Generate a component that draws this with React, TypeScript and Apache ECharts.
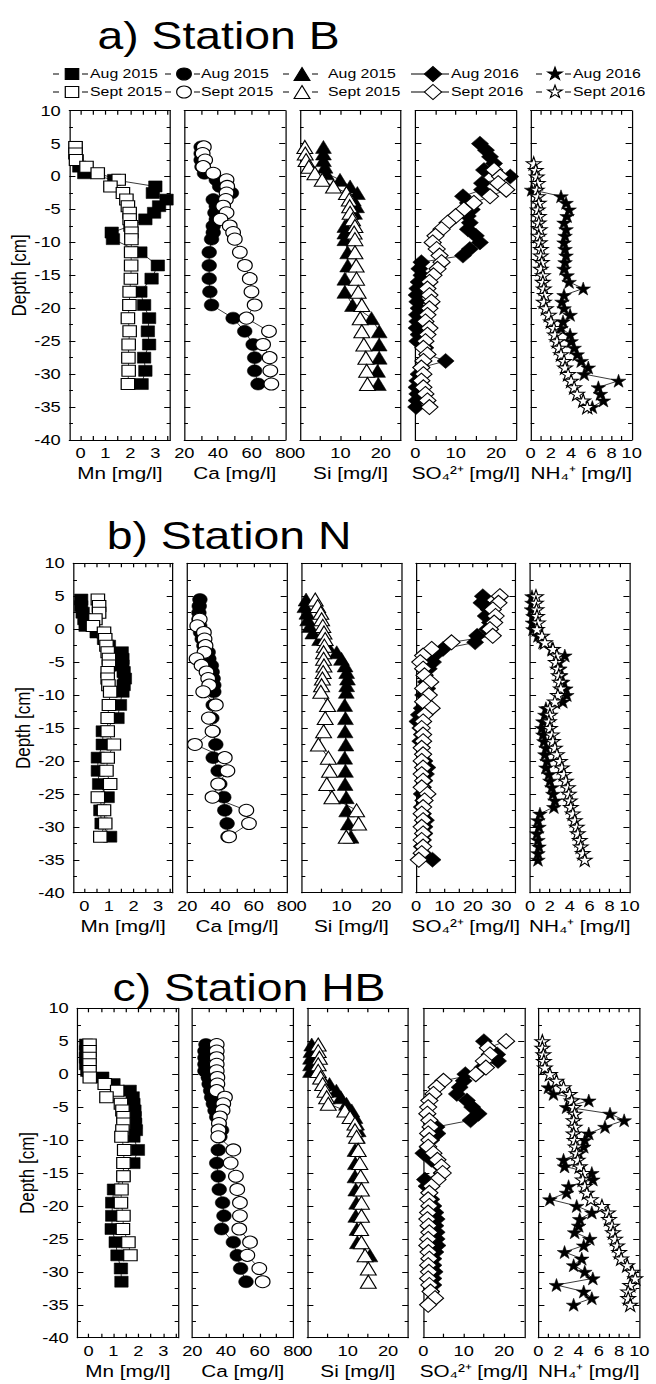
import React, { useEffect, useRef } from "react";
import * as echarts from "echarts";

// The original figure is horizontally stretched; we draw unstretched and scale with CSS.
const STRETCH = 1.22;
const PAGE_W = 656;
const PAGE_H = 1384;
const FONT = "'Liberation Sans', Arial, Helvetica, sans-serif";

// ---------- depths ----------
const DEPTH_2015 = [4.5, 3.5, 2.5, 1.5, 0.5, -0.5, -1.5, -2.5, -3.5, -4.5, -5.5, -6.5, -7.5, -8.5, -9.5,
  -11.5, -13.5, -15.5, -17.5, -19.5, -21.5, -23.5, -25.5, -27.5, -29.5, -31.5];
const DEPTH_2016 = [5, 4, 3, 2, 1, 0, -1, -2, -3, -4, -5, -6, -7, -8, -9, -10, -11, -12, -13, -14, -15,
  -16, -17, -18, -19, -20, -21, -22, -23, -24, -25, -26, -27, -28, -29, -30, -31, -32, -33, -34, -35];

// ---------- a) Station B ----------
const mnAug_B = [-0.2, -0.2, -0.15, -0.05, 0.15, 1.35, 3.0, 2.9, 3.45, 3.15, 2.95, 2.6, 2.0, 1.25, 1.3,
  2.4, 3.1, 2.85, 2.4, 2.55, 2.75, 2.7, 2.75, 2.55, 2.6, 2.45];
const mnSept_B = [-0.2, -0.2, -0.18, 0.24, 0.69, 1.53, 1.2, 1.7, 1.84, 1.9, 1.97, 1.97, 2.03, 2.04, 2.04,
  2.03, 2.03, 2.02, 1.97, 1.96, 1.9, 1.97, 1.93, 1.92, 1.93, 1.9];
const caAug_B = [30, 30, 30, 30.5, 32, 39, 41, 48, 37.2, 39, 38.2, 39, 37.2, 37.2, 36.2,
  34.8, 34.8, 34.8, 35.2, 36.2, 49, 55.9, 60.9, 61.8, 61.8, 63.8];
const caSept_B = [31.6, 30.9, 32.4, 31.2, 37.2, 45.1, 45.5, 45.1, 44.7, 43.1, 45.1, 41.5, 47, 49, 50,
  53, 56, 58.9, 59.9, 61.8, 56.9, 70.3, 66.8, 70.7, 71.1, 71.7];
const siAug_B = [5.8, 5.8, 5.8, 6.2, 6.5, 9.9, 12.4, 14.2, 13.2, 14, 13.5, 12.5, 11.1, 11.1, 11.1,
  11.8, 11.8, 11.1, 11.1, 13, 17.7, 19.6, 19.6, 19.6, 19.2, 19.4];
const siSept_B = [1.2, 1.3, 1.5, 2.2, 3.7, 5.5, 8.3, 11.5, 12.2, 12.3, 12.4, 13, 13.6, 13.4, 13.6,
  13.6, 13.9, 14, 14.4, 15.3, 14.9, 15.3, 15.8, 16.3, 16.5, 16.7];
const so4Aug_B = [16, 17.5, 18.5, 19.5, 17, 23.5, 16.5, 16.5, 11.8, 13, 14, 13, 13.5, 13, 15,
  16, 13.5, 11.8, 1.5, 1, 1.5, 0.8, 0.5, 0.3, 0.5, 0.8, 0.4, 0.5, 0.3, 0.8,
  0.5, 2.5, 3, 7.5, 1.5, 0.8, 0.5, 0.3, 0.5, 0.3, 0.2];
const so4Sept_B = [null, null, null, null, 19.5, 21, 20.5, 22.5, 18.5, 14.5, 12, 10, 8, 6.5, 5,
  4.3, 5.3, 6, 6.5, 5.5, 4.5, 3.5, 3, 3.5, 4, 3.5, 3, 2.5, 3.5, 3,
  2.5, 2, 3, 2, 1.5, 2, 1.5, 2, 2.5, 3, 3.5];
const nh4Aug_B = [null, null, null, null, null, null, null, 0.1, 3.0, 3.5, 3.8, 3.6, 3.3, 3.5, 3.4,
  3.3, 3.4, 3.5, 3.4, 3.3, 3.6, 3.8, 5.2, 3.3, 3.1, 3.3, 3.9, 3.2, 3.0, 3.9,
  4.0, 4.3, 4.6, 5.0, 5.7, 5.3, 8.7, 6.7, 6.9, 7.2, 6.1];
const nh4Sept_B = [null, null, null, 0.3, 0.5, 0.6, 0.7, 0.6, 0.7, 0.8, 0.7, 0.8, 0.8, 0.9, 0.8,
  0.9, 1.0, 1.0, 1.1, 1.0, 1.2, 1.2, 1.3, 1.4, 1.3, 1.5, 1.8, 2.0, 2.3, 2.4,
  2.6, 2.8, 3.0, 3.3, 3.4, 3.7, 4.0, 4.3, 4.6, 5.2, 5.6];

// ---------- b) Station N ----------
const mnAug_N = [-0.13, -0.13, -0.07, 0, 0.05, 0.5, 0.8, 1.0, 1.52, 1.55, 1.55, 1.6, 1.65, 1.6, 1.55,
  1.45, 1.35, 0.75, 0.75, 0.55, 0.55, 0.6, 0.95, 0.65, 0.7, 1.05];
const mnSept_N = [0.55, 0.6, 0.6, 0.45, 0.35, 0.8, 0.85, 0.9, 0.95, 1.0, 1.0, 0.95, 0.95, 0.98, 1.05,
  1.0, 0.95, 0.95, 1.2, 0.95, 0.9, 1.05, 0.55, 0.8, 0.85, 0.65];
const caAug_N = [27.6, 27.2, 27, 27, 27.5, 28, 29, 30, 32.6, 33, 34.5, 35, 35.6, 36, 36,
  35.6, 34.8, 35.6, 37.2, 35.6, 38.6, 39.6, 42, 42.6, 44, 44.5];
const caSept_N = [null, null, null, 27.5, 26, 30, 30.4, 31, 30.4, 25.6, 28.6, 31.6, 32.6, 33.2, 29.6,
  37.2, 33, 35.2, 24.6, 42.6, 44.2, 38.6, 35.2, 55.6, 57.2, 45.2];
const siAug_N = [1.1, 0.8, 1.3, 1.5, 2.0, 2.8, 4.5, 6.5, 8.8, 10, 10.9, 11.3, 11.5, 11.3, 11.2,
  10.8, 11.0, 10.9, 11.1, 10.8, 11.0, 10.9, 11.2, 11.3, 11.7, 12.4];
const siSept_N = [3.4, 4.0, 4.8, 5.0, 5.3, 5.6, 5.9, 5.7, 5.5, 5.5, 5.6, 5.4, 5.2, 5.0, 4.8,
  6.5, 5.9, 5.5, 4.2, 6.7, 7.0, 6.3, 7.6, 13.8, 14.3, 11.2];
const so4Aug_N = [23.5, 23, 25.5, 24.5, 26, 25, 21.5, 20.8, 9.5, 6.5, 6, 4.5, 3, 3.5, 4,
  2.5, 3, 2, 1, 0.5, 1.5, 2, 1.5, 2, 2.5, 3, 4, 3.5, 3, 2.5,
  2, 2.5, 2, 2.5, 3.5, 3, 3, 2.5, 2, 2.5, 5.8];
const so4Sept_N = [29.5, 29, 27, 28, 27.5, 26, 27, 12.5, 5.5, 2.5, 1.5, 2.5, 3, 5, 2.5,
  4.5, 2.5, 5.5, 3, 2.5, 2, 2.5, 2.5, 2, 2.5, 2, 2.5, 2, 2.5, 2,
  4, 3, 2.5, 2, 2.5, 2, 2.5, 2, 2.5, 2, 1];
const nh4Aug_N = [0.2, 0.2, 0.15, 0.3, 0.25, 0.3, 0.8, 1.3, 2.2, 3.5, 2.9, 3.0, 3.1, 3.3, 3.6,
  3.7, 3.3, 1.6, 1.5, 1.3, 1.2, 1.3, 1.4, 1.6, 1.5, 1.7, 1.6, 1.9, 2.0, 2.2,
  2.3, 2.5, 2.4, 1.0, 0.8, 0.9, 0.7, 0.8, 0.9, 0.8, 0.8];
const nh4Sept_N = [0.6, 0.6, 0.65, 0.7, 0.8, 0.7, 1.2, 1.5, 2.3, 2.7, 2.6, 2.8, 2.9, 3.0, 3.1,
  2.8, 2.5, 2.0, 2.0, 1.9, 2.0, 2.2, 2.3, 2.5, 2.7, 3.0, 3.2, 3.4, 3.6, 3.8,
  3.9, 4.0, 4.1, 4.3, 4.5, 4.7, 4.8, 5.0, 5.1, 5.3, 5.5];

// ---------- c) Station HB ----------
const mnAug_HB = [-0.1, -0.1, -0.1, -0.1, -0.05, 0.55, 1.0, 1.65, 1.77, 1.8, 1.84, 1.85, 1.87, 1.9, 1.8,
  1.98, 1.8, 1.4, 1.02, 0.95, 0.95, 0.93, 1.09, 1.16, 1.3, 1.32];
const mnSept_HB = [0.04, 0.04, 0.04, 0.04, 0.04, 0.05, 0.65, 1.15, 0.72, 1.3, 1.36, 1.4, 1.4, 1.36, 1.32,
  1.43, 1.4, 1.4, 1.32, 1.3, 1.4, 1.38, 1.6, 1.68, null, null];
const caAug_HB = [28.1, 27.5, 27.5, 27.5, 27.5, 29.5, 30, 30.9, 31.5, 32.5, 33.5, 34.5, 36, 37.4, 36.4,
  35.4, 34.5, 35.4, 36, 38, 38.8, 37.4, 44.4, 46.7, 48.7, 51.9];
const caSept_HB = [34.5, 34.5, 34.5, 34.5, 34.5, 34.9, 34.9, 34.5, 39.4, 38.4, 38, 36.4, 35.8, 35.6, 35.4,
  44.4, 42.8, 45.9, 46.7, 48.3, 48.3, 47.9, 54.3, 52.7, 59.8, 61.8];
const siAug_HB = [1.1, 0.9, 0.8, 0.8, 0.8, 3.5, 5.5, 7.2, 8.3, 9.7, 11, 11.8, 12.2, 12.6, 12.4,
  11.8, 11.9, 11.8, 12.0, 12.2, 12.0, 12.3, 12.4, 15.5, null, null];
const siSept_HB = [2.7, 2.7, 3.0, 2.7, 2.7, 3.3, 3.8, 4.4, 4.8, 5.2, 9.3, 10.6, 11.8, 11.8, 12.2,
  12.6, 13, 13.2, 13.4, 13.4, 13.4, 13.2, 13.4, 14.3, 15.1, 15.1];
const so4Aug_HB = [15, 16, 18.3, 18.5, 14.6, 10.4, 10, 9, 8.3, 10.8, 12.1, 13.7, 11.7, 3.3, 3.5,
  2, 1, 0, 2, 4.2, 4.5, 0.4, 0.8, 1.5, 2, 2.5, 3, 3.3, 3, 3.3,
  3.3, 3.5, 3, 2.5, 2.5, 2.8, 2.5, 2.5, 2, null, null];
const so4Sept_HB = [20.5, 16, 16.5, 15, 15.5, 13, 5, 3.3, 2.5, 1.5, 1.2, 1, 1.5, 1.8, 1.2,
  1.5, 1.2, 2.5, 3.5, 4.5, 4.8, 3.5, 2, 1.5, 1.2, 1.5, 1.2, 1, 1.3, 1.5,
  1.2, 1, 1.3, 1.5, 1.2, 1.4, 1.2, 1.5, 1.8, 2.9, 1.2];
const nh4Aug_HB = [null, null, null, null, null, null, null, 1.0, 1.5, 5.0, 2.8, 7.1, 8.5, 6.6, 5.0,
  4.6, 4.5, 4.0, 2.5, 2.6, 5.3, 5.4, 3.0, 2.8, 1.15, 3.8, 5.3, 4.1, 4.0, 3.6,
  5.1, 4.5, 2.6, 4.3, 3.5, 4.6, 5.4, 1.8, 4.5, 5.3, 3.5];
const nh4Sept_HB = [0.4, 0.4, 0.5, 0.55, 0.65, 1.15, 1.8, 2.5, 3.1, 3.3, 3.5, 3.6, 3.5, 3.6, 3.5,
  3.6, 3.7, 3.8, 3.9, 4.1, 4.5, 4.4, 4.6, 4.8, 5.2, 6.3, 6.9, 7.0, 7.3, 7.4,
  7.6, 7.8, 8.0, 8.2, 8.8, 9.3, 9.6, 9.1, 8.9, 8.9, 9.1];

// ---------- texts / ticks ----------
const STATION_TITLES = ["a) Station B", "b) Station N", "c) Station HB"];
const AXIS_NAMES = ["Mn [mg/l]", "Ca [mg/l]", "Si [mg/l]", "SO\u2084\u00B2\u207A [mg/l]", "NH\u2084\u207A [mg/l]"];
const DEPTH_NAME = "Depth [cm]";
const LEGEND_AUG = ["Aug 2015", "Aug 2015", "Aug 2015", "Aug 2016", "Aug 2016"];
const LEGEND_SEPT = ["Sept 2015", "Sept 2015", "Sept 2015", "Sept 2016", "Sept 2016"];
const MN_LABELS = [0, 1, 2, 3];
const MN_TICKS = [0, 0.5, 1, 1.5, 2, 2.5, 3, 3.5];
const CA_LABELS = [20, 40, 60, 80];
const CA_TICKS = [30, 40, 50, 60, 70];
const SI_LABELS = [0, 10, 20];
const SI_TICKS = [5, 10, 15, 20];
const SO4_LABELS = [0, 10, 20];
const SO4_TICKS = [5, 10, 15, 20];
const SO4_LABELS_N = [0, 10, 20, 30];
const SO4_TICKS_N = [5, 10, 15, 20, 25, 30];
const NH4_LABELS = [0, 2, 4, 6, 8, 10];
const NH4_TICKS = [1, 2, 3, 4, 5, 6, 7, 8, 9];

const STAR_PATH = "path://M50,0L61.2,34.5L97.6,34.5L68.2,55.9L79.4,90.5L50,69.1L20.6,90.5L31.8,55.9L2.4,34.5L38.8,34.5Z";

const STATIONS = [
  { aug: [mnAug_B, caAug_B, siAug_B, so4Aug_B, nh4Aug_B], sept: [mnSept_B, caSept_B, siSept_B, so4Sept_B, nh4Sept_B] },
  { aug: [mnAug_N, caAug_N, siAug_N, so4Aug_N, nh4Aug_N], sept: [mnSept_N, caSept_N, siSept_N, so4Sept_N, nh4Sept_N] },
  { aug: [mnAug_HB, caAug_HB, siAug_HB, so4Aug_HB, nh4Aug_HB], sept: [mnSept_HB, caSept_HB, siSept_HB, so4Sept_HB, nh4Sept_HB] },
];

// layout in original (stretched) pixel coordinates
const ROWS = [
  { top: 110.7, bottom: 440, lefts: [69.3, 184.3, 300, 415.3, 530.7], width: 101, titleX: 218.5, titleY: 36.5 },
  { top: 563.3, bottom: 892.7, lefts: [73.3, 187.3, 301.7, 416, 530], width: 99.5, titleX: 229, titleY: 536.5 },
  { top: 1008.3, bottom: 1337.7, lefts: [77.3, 192.3, 307.3, 423.3, 538.3], width: 101, titleX: 249, titleY: 988.5 },
];

const PANEL_STYLE = [
  { symbol: "rect", size: 11 },
  { symbol: "circle", size: 12 },
  { symbol: "triangle", size: 13 },
  { symbol: "diamond", size: [14, 15] },
  { symbol: STAR_PATH, size: [12, 13] },
];

function axisSpec(station: number, panel: number) {
  switch (panel) {
    case 0: return { min: -0.45, max: 3.6, labels: MN_LABELS, ticks: MN_TICKS };
    case 1: return { min: 20, max: 80, labels: CA_LABELS, ticks: CA_TICKS };
    case 2: return { min: 0, max: 25, labels: SI_LABELS, ticks: SI_TICKS };
    case 3: return station === 1
      ? { min: 0, max: 35, labels: SO4_LABELS_N, ticks: SO4_TICKS_N }
      : { min: 0, max: 25, labels: SO4_LABELS, ticks: SO4_TICKS };
    default: return { min: 0, max: 10, labels: NH4_LABELS, ticks: NH4_TICKS };
  }
}

const sx = (x: number) => x / STRETCH;

function pairs(values: (number | null)[], depths: number[]) {
  const out: number[][] = [];
  values.forEach((v, i) => { if (v !== null && v !== undefined) out.push([v, depths[i]]); });
  return out;
}

function starPoints(cx: number, cy: number, rx: number, ry: number) {
  const pts: number[][] = [];
  for (let k = 0; k < 10; k++) {
    const a = -Math.PI / 2 + (k * Math.PI) / 5;
    const r = k % 2 === 0 ? 1 : 0.382;
    pts.push([cx + rx * r * Math.cos(a), cy + ry * r * Math.sin(a)]);
  }
  return pts;
}

function legendMarker(kind: number, cx: number, cy: number, filled: boolean) {
  const style = { fill: filled ? "#000" : "#fff", stroke: "#000", lineWidth: 1 };
  switch (kind) {
    case 0: return { type: "rect", shape: { x: cx - 5.5, y: cy - 5.5, width: 11, height: 11 }, style, z: 101 };
    case 1: return { type: "circle", shape: { cx, cy, r: 6 }, style, z: 101 };
    case 2: return { type: "polygon", shape: { points: [[cx, cy - 6.5], [cx + 6.5, cy + 6.5], [cx - 6.5, cy + 6.5]] }, style, z: 101 };
    case 3: return { type: "polygon", shape: { points: [[cx, cy - 7.5], [cx + 7, cy], [cx, cy + 7.5], [cx - 7, cy]] }, style, z: 101 };
    default: return { type: "polygon", shape: { points: starPoints(cx, cy, 6.3, 6.8) }, style, z: 101 };
  }
}

function buildOption() {
  const grid: any[] = [];
  const xAxis: any[] = [];
  const yAxis: any[] = [];
  const series: any[] = [];
  const black = "#000";

  ROWS.forEach((row, s) => {
    for (let p = 0; p < 5; p++) {
      const g = s * 5 + p;
      const spec = axisSpec(s, p);
      grid.push({ left: sx(row.lefts[p]), top: row.top, width: sx(row.width), height: row.bottom - row.top });
      const xBase = {
        type: "value", gridIndex: g, min: spec.min, max: spec.max,
        axisLine: { show: true, onZero: false, lineStyle: { color: black, width: 1 } },
        axisTick: { show: true, inside: true, length: 4, customValues: spec.ticks, lineStyle: { color: black } },
        splitLine: { show: false },
      };
      xAxis.push({
        ...xBase, position: "bottom",
        axisLabel: { show: true, customValues: spec.labels, fontSize: 15, color: black, fontFamily: FONT, margin: 6 },
        name: AXIS_NAMES[p], nameLocation: "middle", nameGap: 25,
        nameTextStyle: { fontSize: 17, color: black, fontFamily: FONT },
      });
      xAxis.push({ ...xBase, position: "top", axisLabel: { show: false } });
      const yBase = {
        type: "value", gridIndex: g, min: -40, max: 10, interval: 5,
        axisLine: { show: true, onZero: false, lineStyle: { color: black, width: 1 } },
        axisTick: { show: true, inside: true, length: 5, lineStyle: { color: black } },
        minorTick: { show: true, splitNumber: 2, length: 3, lineStyle: { color: black } },
        splitLine: { show: false }, minorSplitLine: { show: false },
      };
      yAxis.push({
        ...yBase, position: "left",
        axisLabel: { show: p === 0, fontSize: 15, color: black, fontFamily: FONT, margin: 7 },
        name: p === 0 ? DEPTH_NAME : "", nameLocation: "middle", nameRotate: 90, nameGap: 32,
        nameTextStyle: { fontSize: 17, color: black, fontFamily: FONT },
      });
      yAxis.push({ ...yBase, position: "right", axisLabel: { show: false } });

      const depths = p >= 3 ? DEPTH_2016 : DEPTH_2015;
      const st = PANEL_STYLE[p];
      const base = {
        type: "line", xAxisIndex: 2 * g, yAxisIndex: 2 * g, symbol: st.symbol, symbolSize: st.size,
        showSymbol: true, silent: true, lineStyle: { color: black, width: 0.7 },
        emphasis: { disabled: true },
      };
      series.push({
        ...base, name: LEGEND_AUG[p], data: pairs(STATIONS[s].aug[p] as any, depths), z: 2,
        itemStyle: { color: black, borderColor: black, borderWidth: 0.5 },
      });
      series.push({
        ...base, name: LEGEND_SEPT[p], data: pairs(STATIONS[s].sept[p] as any, depths), z: 3,
        itemStyle: { color: "#fff", borderColor: black, borderWidth: 1 },
      });
    }
  });

  const graphic: any[] = [];
  ROWS.forEach((row, s) => {
    graphic.push({
      type: "text", x: sx(row.titleX), y: row.titleY, z: 100,
      style: { text: STATION_TITLES[s], fontSize: 38, fontFamily: FONT, fill: black,
        align: "center", verticalAlign: "middle", textAlign: "center", textVerticalAlign: "middle" },
    });
  });

  const markerX = [72, 184, 302, 433, 555];
  const textX = [90, 201, 328, 451, 573];
  const rowY = [74, 92];
  rowY.forEach((y, r) => {
    for (let i = 0; i < 5; i++) {
      const m = markerX[i];
      const segs = i === 3 ? [[m - 22, m + 16]] : [[m - 19, m - 13], [m + 10, m + 16]];
      segs.forEach(([a, b]) => graphic.push({
        type: "line", shape: { x1: sx(a), y1: y, x2: sx(b), y2: y }, style: { stroke: black, lineWidth: 1 }, z: 100,
      }));
      graphic.push(legendMarker(i, sx(m), y, r === 0));
      graphic.push({
        type: "text", x: sx(textX[i]), y, z: 100,
        style: { text: r === 0 ? LEGEND_AUG[i] : LEGEND_SEPT[i], fontSize: 13, fontFamily: FONT, fill: black,
          align: "left", verticalAlign: "middle", textAlign: "left", textVerticalAlign: "middle" },
      });
    }
  });

  return { animation: false, backgroundColor: "#fff", grid, xAxis, yAxis, series, graphic };
}

export default function App() {
  const ref = useRef<HTMLDivElement>(null);
  useEffect(() => {
    if (!ref.current) return;
    const chart = echarts.init(ref.current, null, { renderer: "svg" });
    chart.setOption(buildOption() as any);
    return () => chart.dispose();
  }, []);
  return (
    <div
      ref={ref}
      style={{
        position: "absolute", left: 0, top: 0,
        width: PAGE_W / STRETCH, height: PAGE_H,
        transform: `scaleX(${STRETCH})`, transformOrigin: "0 0", background: "#fff",
      }}
    />
  );
}
